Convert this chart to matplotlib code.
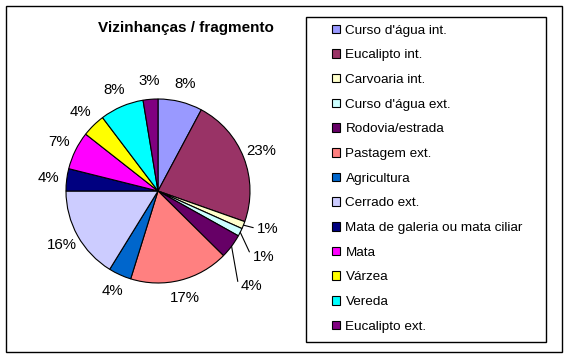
import matplotlib.pyplot as plt
import matplotlib.patches as mpatches
import numpy as np

plt.rcParams['font.family'] = ['Liberation Sans', 'DejaVu Sans']

# data (percent of neighbourhoods)
categories = ["Curso d'água int.", "Eucalipto int.", "Carvoaria int.", "Curso d'água ext.",
              "Rodovia/estrada", "Pastagem ext.", "Agricultura", "Cerrado ext.",
              "Mata de galeria ou mata ciliar", "Mata", "Várzea", "Vereda", "Eucalipto ext."]
values = [7.8, 22.6, 1.3, 1.4, 4.3, 17.4, 4.0, 16.2, 3.9, 6.7, 4.1, 7.7, 2.6]
colors = ['#9999FF', '#993366', '#FFFFCC', '#CCFFFF', '#660066', '#FF8080', '#0066CC',
          '#CCCCFF', '#000080', '#FF00FF', '#FFFF00', '#00FFFF', '#800080']
title = "Vizinhanças / fragmento"

W, H = 568, 357
fig = plt.figure(figsize=(W / 100, H / 100), dpi=100)

# outer chart frame
fig.patches.append(mpatches.Rectangle((6 / W, 1 - 352 / H), 556 / W, 346 / H,
                                      transform=fig.transFigure, fill=False,
                                      edgecolor='black', lw=1))

# pie axes
cx, cy, r = 158, 191, 92
ax = fig.add_axes([(cx - r) / W, 1 - (cy + r) / H, 2 * r / W, 2 * r / H])
wedges, texts, autotexts = ax.pie(values, colors=colors, startangle=90, counterclock=False,
                                  autopct='%.0f%%', pctdistance=1.2,
                                  wedgeprops=dict(edgecolor='black', linewidth=0.8),
                                  textprops=dict(fontsize=10.8))
ax.set_xlim(-1, 1)
ax.set_ylim(-1, 1)
ax.set_aspect('equal')

# small slices get leader lines
leaders = {2: ((1.08, -0.41), 'arc3'),
           3: ((1.03, -0.72), 'angle,angleA=180,angleB=-65,rad=0'),
           4: ((0.90, -1.03), 'angle,angleA=180,angleB=-80,rad=0')}
for i, (pos, cs) in leaders.items():
    w = wedges[i]
    ang = np.deg2rad((w.theta1 + w.theta2) / 2)
    autotexts[i].set_visible(False)
    ax.annotate(autotexts[i].get_text(), xy=(np.cos(ang), np.sin(ang)), xytext=pos,
                ha='left', va='center', fontsize=10.8,
                arrowprops=dict(arrowstyle='-', color='black', lw=0.8, shrinkA=1, shrinkB=0,
                                connectionstyle=cs, relpos=(0, 0.5)))

fig.text(186 / W, 1 - 28 / H, title, ha='center', va='center', fontsize=11, fontweight='bold')

# legend box
fig.patches.append(mpatches.Rectangle((306 / W, 1 - 342 / H), 240 / W, 325 / H,
                                      transform=fig.transFigure, fill=False,
                                      edgecolor='black', lw=1))
handles = [mpatches.Patch(facecolor=c, edgecolor='black', lw=0.8) for c in colors]
fig.legend(handles, categories, loc='upper left', bbox_to_anchor=(332 / W, 1 - 24.5 / H),
           frameon=False, fontsize=9.7, borderpad=0, borderaxespad=0,
           handlelength=0.6, handleheight=0.6, handletextpad=0.4, labelspacing=0.94)

fig.savefig('out.png', dpi=100)
